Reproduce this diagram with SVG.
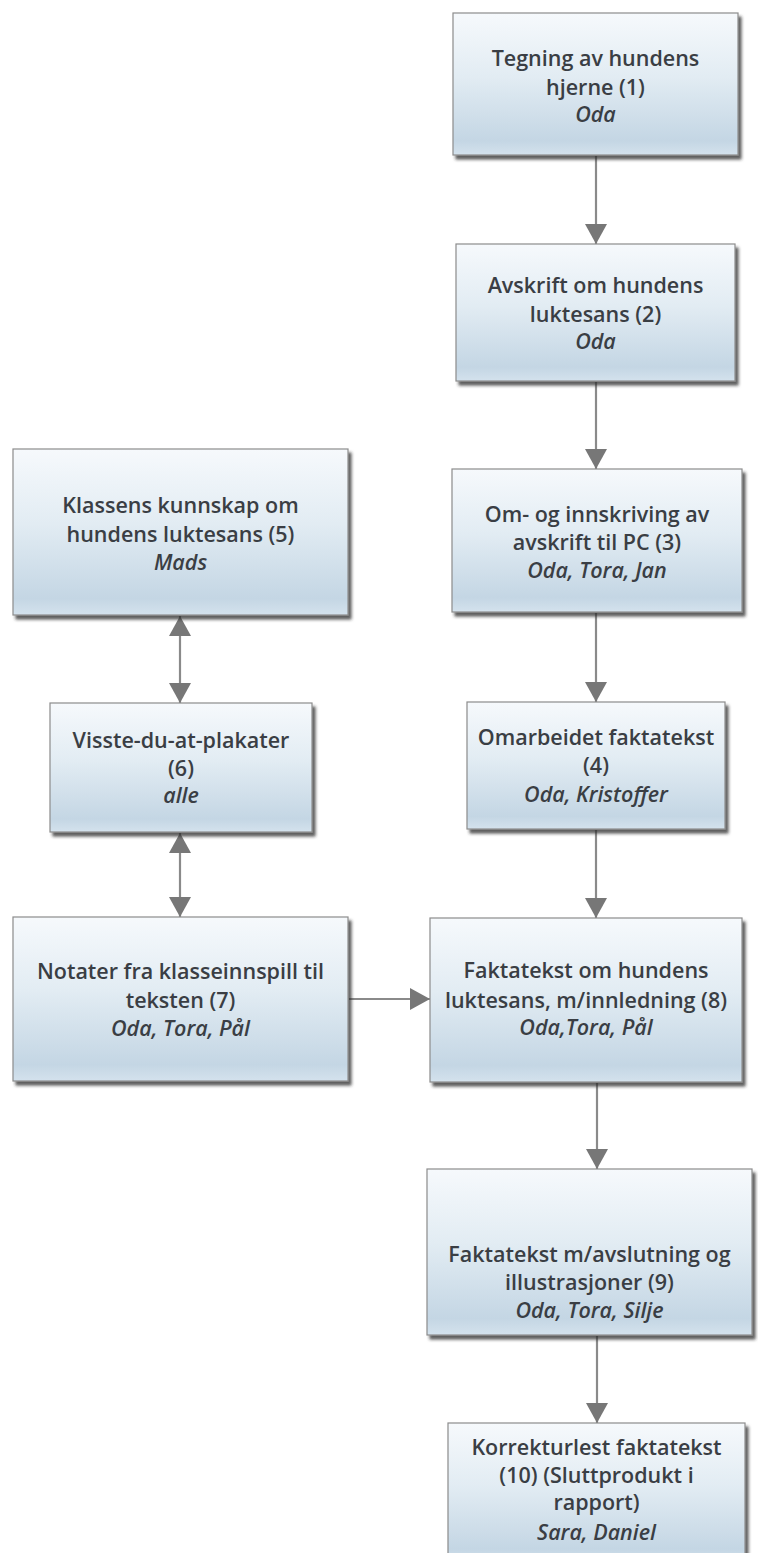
<svg xmlns="http://www.w3.org/2000/svg" width="758" height="1553" viewBox="0 0 758 1553">
<defs>
<linearGradient id="g" x1="0" y1="0" x2="0" y2="1">
<stop offset="0" stop-color="#f6f9fc"/>
<stop offset="0.45" stop-color="#e2ecf3"/>
<stop offset="0.9" stop-color="#c4d6e4"/>
<stop offset="1" stop-color="#d4e2ed"/>
</linearGradient>
<filter id="sh" x="-10%" y="-10%" width="125%" height="125%">
<feDropShadow dx="3" dy="4" stdDeviation="1.6" flood-color="#2a2a2a" flood-opacity="0.75"/>
</filter>
<marker id="ah" viewBox="0 0 20 22" refX="20" refY="11" markerWidth="20" markerHeight="22" markerUnits="userSpaceOnUse" orient="auto-start-reverse">
<path d="M0,0 L20,11 L0,22 Z" fill="#777777"/>
</marker>
</defs>
<style>
.box{fill:url(#g);stroke:#8c8c8c;stroke-width:1.2;filter:url(#sh)}
.t{font-family:"Open Sans","Noto Sans","Liberation Sans",sans-serif;font-size:21.5px;font-weight:600;fill:#3a3e44;text-anchor:middle}
.i{font-style:italic}
.c{stroke:#8a8a8a;stroke-width:2.2;fill:none;marker-end:url(#ah)}
.d{marker-start:url(#ah)}
</style>
<rect width="758" height="1553" fill="#ffffff"/>
<g id="connectors">
<line class="c" x1="596" y1="156" x2="596" y2="244"/>
<line class="c" x1="596" y1="382" x2="596" y2="469"/>
<line class="c" x1="596" y1="613" x2="596" y2="702"/>
<line class="c" x1="596" y1="830" x2="596" y2="918"/>
<line class="c" x1="597" y1="1083" x2="597" y2="1169"/>
<line class="c" x1="597" y1="1336" x2="597" y2="1423"/>
<line class="c d" x1="180" y1="616" x2="180" y2="703"/>
<line class="c d" x1="180" y1="833" x2="180" y2="917"/>
<line class="c" x1="349" y1="999" x2="430" y2="999"/>
</g>
<g id="n1"><rect class="box" x="453" y="13" width="285" height="142"/>
<text class="t" x="595.5" y="66">Tegning av hundens</text><text class="t" x="595.5" y="95">hjerne (1)</text><text class="t i" x="595.5" y="122">Oda</text></g>
<g id="n2"><rect class="box" x="456" y="244" width="279" height="137"/>
<text class="t" x="595.5" y="293">Avskrift om hundens</text><text class="t" x="595.5" y="322">luktesans (2)</text><text class="t i" x="595.5" y="349">Oda</text></g>
<g id="n3"><rect class="box" x="452" y="469" width="290" height="143"/>
<text class="t" x="597" y="522">Om- og innskriving av</text><text class="t" x="597" y="550">avskrift til PC (3)</text><text class="t i" x="597" y="578">Oda, Tora, Jan</text></g>
<g id="n4"><rect class="box" x="467" y="702" width="258" height="127"/>
<text class="t" x="596" y="745">Omarbeidet faktatekst</text><text class="t" x="596" y="773">(4)</text><text class="t i" x="596" y="802">Oda, Kristoffer</text></g>
<g id="n5"><rect class="box" x="13" y="449" width="335" height="166"/>
<text class="t" x="180.5" y="513">Klassens kunnskap om</text><text class="t" x="180.5" y="542">hundens luktesans (5)</text><text class="t i" x="180.5" y="570">Mads</text></g>
<g id="n6"><rect class="box" x="50" y="703" width="262" height="129"/>
<text class="t" x="181" y="748">Visste-du-at-plakater</text><text class="t" x="181" y="776">(6)</text><text class="t i" x="181" y="803">alle</text></g>
<g id="n7"><rect class="box" x="13" y="917" width="335" height="164"/>
<text class="t" x="180.5" y="979">Notater fra klasseinnspill til</text><text class="t" x="180.5" y="1008">teksten (7)</text><text class="t i" x="180.5" y="1036">Oda, Tora, Pål</text></g>
<g id="n8"><rect class="box" x="430" y="918" width="312" height="164"/>
<text class="t" x="586" y="978">Faktatekst om hundens</text><text class="t" x="586" y="1008">luktesans, m/innledning (8)</text><text class="t i" x="586" y="1035">Oda,Tora, Pål</text></g>
<g id="n9"><rect class="box" x="427" y="1169" width="325" height="166"/>
<text class="t" x="589.5" y="1262">Faktatekst m/avslutning og</text><text class="t" x="589.5" y="1290">illustrasjoner (9)</text><text class="t i" x="589.5" y="1318">Oda, Tora, Silje</text></g>
<g id="n10"><rect class="box" x="448" y="1423" width="297" height="140"/>
<text class="t" x="596.5" y="1455">Korrekturlest faktatekst</text><text class="t" x="596.5" y="1483">(10) (Sluttprodukt i</text><text class="t" x="596.5" y="1510">rapport)</text><text class="t i" x="596.5" y="1540">Sara, Daniel</text></g>
</svg>
